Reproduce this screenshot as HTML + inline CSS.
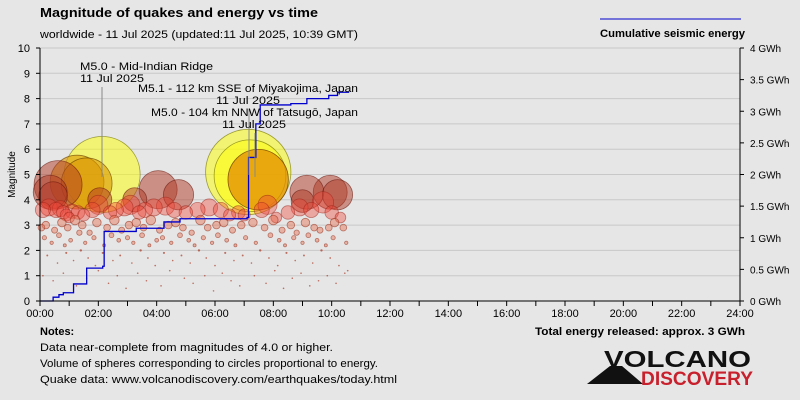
<!DOCTYPE html>
<html><head><meta charset="utf-8"><style>
body{margin:0;background:#e6e6e6;font-family:"Liberation Sans",sans-serif}
svg{display:block}
text{font-family:"Liberation Sans","DejaVu Sans",sans-serif;fill:#000}
</style></head><body>
<svg id="c" width="800" height="400">
<rect width="800" height="400" fill="#e6e6e6"/>
<text x="40" y="17" font-size="13" font-weight="bold" textLength="278" lengthAdjust="spacingAndGlyphs">Magnitude of quakes and energy vs time</text>
<text x="40" y="38" font-size="11" textLength="318" lengthAdjust="spacingAndGlyphs">worldwide - 11 Jul 2025 (updated:11 Jul 2025, 10:39 GMT)</text>
<line x1="600" y1="19" x2="741" y2="19" stroke="#0000cc" stroke-width="1"/>
<text x="600" y="37" font-size="11" font-weight="bold" textLength="145" lengthAdjust="spacingAndGlyphs">Cumulative seismic energy</text>
<g id="grid"></g><g id="quakes"></g><g id="energy"></g><g id="axes"></g><g id="ann"></g>
<text x="40" y="335" font-size="11" font-weight="bold">Notes:</text>
<text x="40" y="351" font-size="11" textLength="293" lengthAdjust="spacingAndGlyphs">Data near-complete from magnitudes of 4.0 or higher.</text>
<text x="40" y="367" font-size="11" textLength="338" lengthAdjust="spacingAndGlyphs">Volume of spheres corresponding to circles proportional to energy.</text>
<text x="40" y="383" font-size="11" textLength="357" lengthAdjust="spacingAndGlyphs">Quake data: www.volcanodiscovery.com/earthquakes/today.html</text>
<text x="535" y="335" font-size="11" font-weight="bold" textLength="210" lengthAdjust="spacingAndGlyphs">Total energy released: approx. 3 GWh</text>
<g>
<polygon points="587,384 610,366 622,366 643,384" fill="#111"/>
<text x="604" y="367" font-size="23" font-weight="bold" style="fill:#111" textLength="147" lengthAdjust="spacingAndGlyphs">VOLCANO</text>
<text x="641" y="385" font-size="19" font-weight="bold" style="fill:#c8202c" textLength="112" lengthAdjust="spacingAndGlyphs">DISCOVERY</text>
</g>
</svg>
<script>
const quakeHours=[0.35,0.62,0.45,1.27,1.6,2.13,2.05,2.0,3.25,4.05,4.75,7.14,7.2,7.48,7.8,9.15,9.95,10.2,9.0,
0.1,0.3,0.55,0.7,0.8,0.9,1.0,1.1,1.3,1.5,1.8,2.4,2.6,2.9,3.1,3.4,3.6,3.9,4.3,4.6,5.0,5.4,5.8,6.2,6.5,6.8,7.0,7.6,8.1,8.5,8.9,9.3,9.7,10.0,10.3,
0.05,0.2,0.5,0.75,0.95,1.2,1.45,1.7,1.95,2.3,2.55,2.8,3.05,3.3,3.55,3.8,4.1,4.4,4.65,4.9,5.2,5.5,5.75,6.05,6.3,6.6,6.9,7.3,7.7,8.0,8.3,8.6,8.8,9.1,9.4,9.6,9.9,10.1,10.4,
0.15,0.4,0.65,0.85,1.05,1.35,1.55,1.85,2.2,2.45,2.7,3.0,3.2,3.5,3.75,4.0,4.2,4.5,4.8,5.1,5.3,5.6,5.9,6.1,6.4,6.7,7.05,7.4,7.9,8.2,8.4,8.7,9.0,9.2,9.5,9.8,10.05,10.5,
0.25,0.6,0.9,1.15,1.4,1.65,1.9,2.15,2.5,2.75,3.15,3.45,3.7,3.95,4.25,4.55,4.85,5.15,5.45,5.7,6.0,6.35,6.65,6.95,7.25,7.55,7.85,8.15,8.45,8.75,9.05,9.35,9.65,9.95,10.25,10.55,
0.1,0.45,0.8,1.25,1.6,2.0,2.35,2.65,2.95,3.35,3.65,4.15,4.45,4.95,5.25,5.65,5.95,6.25,6.55,6.85,7.35,7.75,8.05,8.35,8.65,8.95,9.25,9.55,9.85,10.15,10.45];
const quakeMags=[4.3,4.6,4.15,4.7,4.65,5.0,4.0,3.8,4.0,4.4,4.2,5.1,4.95,4.8,3.8,4.3,4.3,4.2,3.95,
3.6,3.7,3.6,3.65,3.5,3.4,3.3,3.55,3.5,3.4,3.6,3.5,3.6,3.7,3.8,3.5,3.6,3.7,3.75,3.6,3.5,3.6,3.7,3.6,3.4,3.5,3.4,3.6,3.3,3.5,3.7,3.6,3.9,3.5,3.3,
2.9,3.0,2.8,3.1,2.9,3.2,3.0,2.7,3.1,2.9,3.2,2.8,3.0,3.1,2.9,3.2,2.8,3.0,3.1,2.9,2.7,3.2,2.9,3.0,3.1,2.8,3.0,3.1,2.9,3.2,2.8,3.0,2.7,3.1,2.9,2.8,2.9,3.1,2.9,
2.5,2.3,2.6,2.2,2.4,2.7,2.3,2.5,2.2,2.6,2.4,2.5,2.3,2.6,2.2,2.4,2.5,2.3,2.6,2.4,2.2,2.5,2.3,2.6,2.4,2.2,2.5,2.3,2.6,2.4,2.2,2.5,2.3,2.6,2.4,2.2,2.5,2.3,
1.8,1.5,1.9,1.6,2.0,1.7,1.4,1.9,1.6,1.8,1.5,2.0,1.7,1.4,1.9,1.6,1.8,1.5,2.0,1.7,1.4,1.9,1.6,1.8,1.5,2.0,1.7,1.4,1.9,1.6,1.8,1.5,2.0,1.7,1.4,1.2,
1.0,0.8,1.1,0.6,0.9,1.2,0.7,1.0,0.5,1.1,0.8,0.6,1.2,0.9,0.7,1.0,0.4,1.1,0.8,0.6,1.0,0.7,1.2,0.5,0.9,1.1,0.6,0.8,1.0,0.7,1.1];
const energyHours=[0,0.45,0.65,0.8,1.15,1.6,2.15,2.2,3.3,4.25,4.8,7.1,7.15,7.4,7.55,8.6,9.15,9.9,10.2,10.6];
const energyGWh=[0,0.06,0.1,0.13,0.27,0.52,0.55,1.1,1.15,1.25,1.3,1.32,2.27,2.8,3.1,3.12,3.2,3.25,3.3,3.3];
const xTickLabels=["00:00","02:00","04:00","06:00","08:00","10:00","12:00","14:00","16:00","18:00","20:00","22:00","24:00"];
const yTickLabels=["0","1","2","3","4","5","6","7","8","9","10"];
const y2TickLabels=["0 GWh","0.5 GWh","1 GWh","1.5 GWh","2 GWh","2.5 GWh","3 GWh","3.5 GWh","4 GWh"];

const NS="http://www.w3.org/2000/svg";
const X0=40,X1=740,Y0=301,Y1=48;
const xs=h=>X0+(X1-X0)*h/24;
const ys=m=>Y0-(Y0-Y1)*m/10;
const ye=g=>Y0-(Y0-Y1)*g/4;
function mk(tag,attrs,parent){const e=document.createElementNS(NS,tag);for(const k in attrs)e.setAttribute(k,attrs[k]);parent.appendChild(e);return e;}
const grid=document.getElementById('grid'),axes=document.getElementById('axes');
for(let i=1;i<yTickLabels.length;i++){
  const l=mk('line',{x1:X0,x2:X1,y1:ys(i),y2:ys(i),stroke:'#c8c8c8'},grid);
  
  
}
const qg=document.getElementById('quakes');
const order=quakeMags.map((m,i)=>i).sort((a,b)=>quakeMags[a]-quakeMags[b]);
order.reverse().forEach(i=>{
  const m=quakeMags[i];
  const r=Math.max(0.8,38*Math.pow(10,0.5*(m-5)));
  let fill,stroke;
  if(m>=4.9){fill='rgba(255,255,0,0.5)';stroke='rgba(120,120,0,0.7)';}
  else if(m>=4.75){fill='rgba(225,140,0,0.75)';stroke='rgba(110,60,0,0.8)';}
  else if(m>=4.6&&m<4.75&&i>=3&&i<=4){fill='rgba(220,150,0,0.6)';stroke='rgba(110,70,0,0.7)';}
  else if(m>=3.95){fill='rgba(175,55,35,0.5)';stroke='rgba(100,20,10,0.6)';}
  else if(m>=3.3){fill='rgba(240,70,55,0.4)';stroke='rgba(150,30,20,0.5)';}
  else if(m>=2.2){fill='rgba(230,110,80,0.45)';stroke='rgba(150,50,30,0.6)';}
  else {fill='rgba(170,60,40,0.7)';stroke='none';}
  const c=mk('circle',{cx:xs(quakeHours[i]),cy:ys(m),r:r,fill:fill,stroke:stroke,'stroke-width':0.8},qg);
  
  
});
let d='';
energyHours.forEach((h,i)=>{
  if(i===0)d+=`M${xs(h)},${ye(energyGWh[i])}`;
  else d+=`H${xs(h)}V${ye(energyGWh[i])}`;
});
const p=mk('path',{d:d,fill:'none',stroke:'#0000cc','stroke-width':1.3},document.getElementById('energy'));


mk('line',{x1:X0,x2:X0,y1:Y1,y2:Y0,stroke:'#000'},axes);
mk('line',{x1:X1,x2:X1,y1:Y1,y2:Y0,stroke:'#000'},axes);
mk('line',{x1:X0,x2:X1,y1:Y0,y2:Y0,stroke:'#000'},axes);
for(let h=0;h<=24;h++){mk('line',{x1:xs(h),x2:xs(h),y1:Y0,y2:Y0+5,stroke:'#000'},axes);}
xTickLabels.forEach((t,i)=>{
  const e=mk('text',{x:xs(i*2),y:Y0+16,'font-size':11,'text-anchor':'middle'},axes);e.textContent=t;
  
  
});
yTickLabels.forEach((t,i)=>{
  mk('line',{x1:X0-4,x2:X0,y1:ys(i),y2:ys(i),stroke:'#000'},axes);
  const e=mk('text',{x:X0-10,y:ys(i)+4,'font-size':11,'text-anchor':'end'},axes);e.textContent=t;
  
  
});
y2TickLabels.forEach((t,i)=>{
  mk('line',{x1:X1,x2:X1+4,y1:ye(i*0.5),y2:ye(i*0.5),stroke:'#000'},axes);
  const e=mk('text',{x:X1+10,y:ye(i*0.5)+4,'font-size':10},axes);e.textContent=t;
  
  
});
const yt=mk('text',{x:0,y:0,'font-size':10,'text-anchor':'middle',transform:`translate(15,${ys(5)}) rotate(-90)`},axes);
yt.textContent='Magnitude';


const ann=document.getElementById('ann');
const notes=[
 {x:80,y:70,t:'M5.0 - Mid-Indian Ridge',w:133,dx:80,lx:102,ly1:87,ly2:177},
 {x:138,y:92,t:'M5.1 - 112 km SSE of Miyakojima, Japan',w:220,dx:216,lx:249,ly1:109,ly2:175},
 {x:151,y:116,t:'M5.0 - 104 km NNW of Tatsugō, Japan',w:207,dx:222,lx:255,ly1:133,ly2:177}];
notes.forEach(n=>{
  const l=mk('line',{x1:n.lx,x2:n.lx,y1:n.ly1,y2:n.ly2,stroke:'#888'},ann);
  
  
  const a=mk('text',{x:n.x,y:n.y,'font-size':11,textLength:n.w,lengthAdjust:'spacingAndGlyphs'},ann);a.textContent=n.t;
  
  
  const b=mk('text',{x:n.dx,y:n.y+12,'font-size':11,textLength:64,lengthAdjust:'spacingAndGlyphs'},ann);b.textContent='11 Jul 2025';
  
  
});
</script>
</body></html>
